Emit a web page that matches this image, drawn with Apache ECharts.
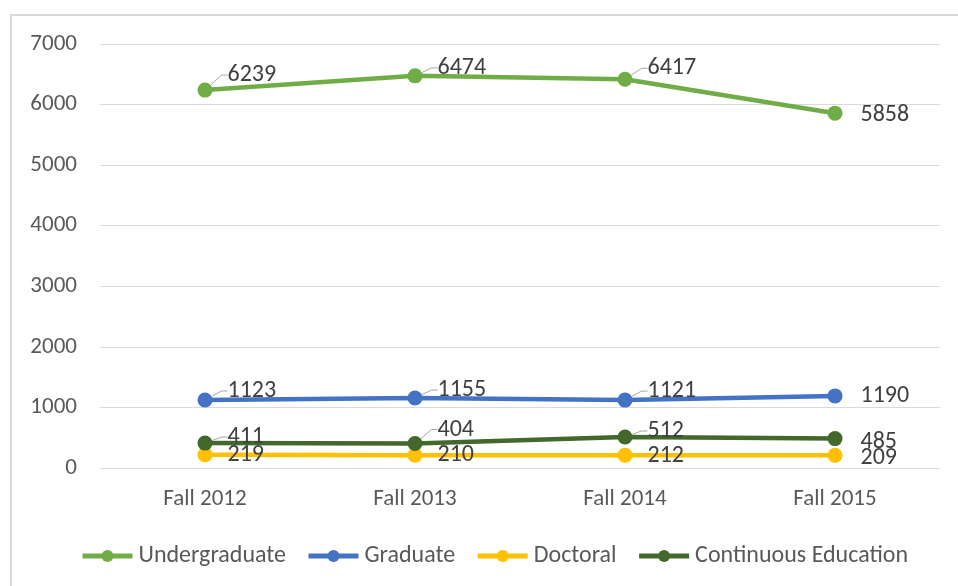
<!DOCTYPE html>
<html><head><meta charset="utf-8">
<script src="https://cdn.jsdelivr.net/npm/echarts@6/dist/echarts.min.js"></script>
<style>html,body{margin:0;padding:0;background:#fff}#c{width:958px;height:586px}</style>
</head><body><div id="c"></div>
<script>
const categories = ['Fall 2012', 'Fall 2013', 'Fall 2014', 'Fall 2015'];
const undergraduate = [6239, 6474, 6417, 5858];
const graduate = [1123, 1155, 1121, 1190];
const doctoral = [219, 210, 212, 209];
const continuousEducation = [411, 404, 512, 485];
const yTicks = [0, 1000, 2000, 3000, 4000, 5000, 6000, 7000];

// label placement (styling only): [dx, dy] per series / point
const labelShift = [
  [[10,-15],[10,-8],[10,-11],[13,2]],
  [[10,-9],[10,-8],[10,-9],[13,0]],
  [[10,0],[10,0],[10,1],[13,3]],
  [[10,-6],[10,-14],[10,-6],[13,3]]
];
const leader = [[1,1,1,0],[1,1,1,0],[0,0,0,0],[1,1,1,0]];

const font = '"Carlito", "Liberation Sans", Arial, sans-serif';
const names = ['Undergraduate','Graduate','Doctoral','Continuous Education'];
const colors = ['#70AD47','#4472C4','#FFC000','#43682B'];
const values = [undergraduate, graduate, doctoral, continuousEducation];

const chart = echarts.init(document.getElementById('c'));
chart.setOption({
  animation: false,
  graphic: [{type:'rect', shape:{x:11,y:15,width:960,height:600}, style:{fill:'none', stroke:'#d9d9d9', lineWidth:2}, silent:true}],
  grid: {left: 100, right: 18, top: 44, bottom: 118},
  legend: {
    top: 539, left: 75, itemWidth: 50, itemHeight: 15, itemGap: 20,
    lineStyle: {width: 5},
    textStyle: {fontFamily: font, fontSize: 24, color: '#595959', padding: [0,0,0,1]},
    data: names
  },
  xAxis: {
    type: 'category', data: categories, boundaryGap: true,
    axisLine: {lineStyle: {color: '#d9d9d9'}}, axisTick: {show: false},
    axisLabel: {fontFamily: font, fontSize: 23, color: '#595959', margin: 20}
  },
  yAxis: {
    type: 'value', min: yTicks[0], max: yTicks[yTicks.length-1], interval: 1000,
    axisLine: {show: false}, axisTick: {show: false},
    splitLine: {lineStyle: {color: '#d9d9d9', width: 1}},
    axisLabel: {fontFamily: font, fontSize: 23, color: '#595959', margin: 23, formatter: v => String(v)}
  },
  series: names.map((n, si) => ({
    name: n, type: 'line',
    data: values[si].map((v, i) => ({value: v, labelLine: {show: !!leader[si][i]}})),
    symbol: 'circle', symbolSize: 15,
    lineStyle: {width: 4.5, color: colors[si]},
    itemStyle: {color: colors[si]},
    z: si === 2 ? 1 : 2,
    label: {show: true, position: 'right', distance: 5, fontFamily: font, fontSize: 24, color: '#404040'},
    labelLine: {show: true, lineStyle: {color: '#a6a6a6', width: 1}, length2: 6},
    labelLayout: function (p) {
      const s = labelShift[p.seriesIndex][p.dataIndex];
      return {dx: s[0], dy: s[1]};
    }
  }))
});
</script></body></html>
